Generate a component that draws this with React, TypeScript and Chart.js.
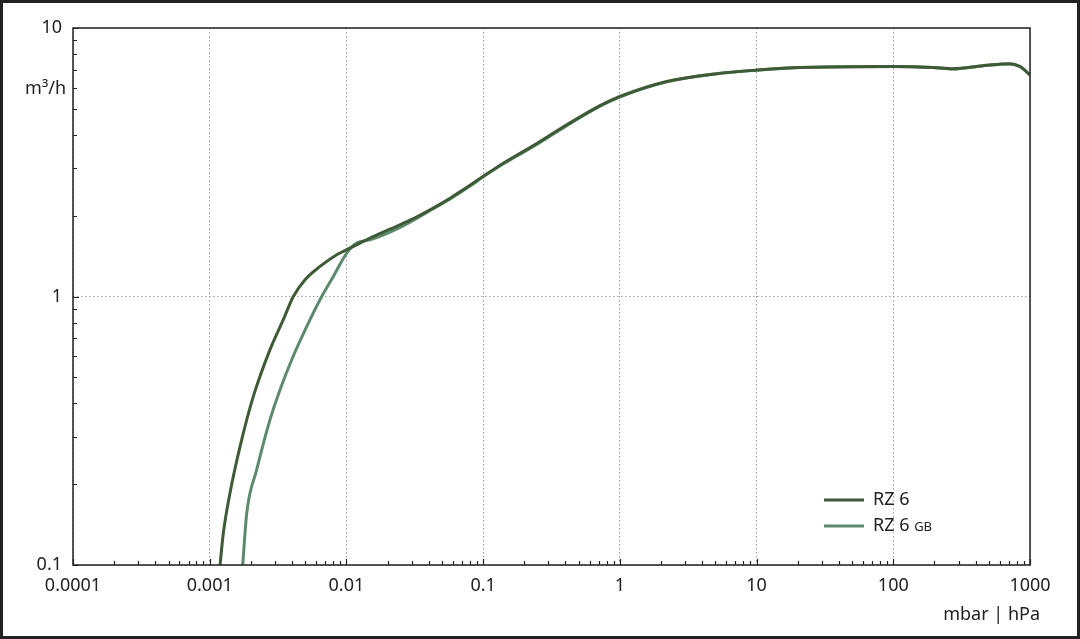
import { useEffect, useRef } from 'react';
import { Chart, registerables } from 'chart.js';

Chart.register(...registerables);

const xDecades = [0.0001, 0.001, 0.01, 0.1, 1, 10, 100, 1000];
const xTickLabels = ['0.0001', '0.001', '0.01', '0.1', '1', '10', '100', '1000'];
const yDecades = [0.1, 1, 10];
const yTickLabels = ['0.1', '1', '10'];
const minorSteps = [2, 3, 4, 5, 6, 7, 8, 9];

const rz6Pressure = [0.00119, 0.001258, 0.001407, 0.001714, 0.002085, 0.00276, 0.003454, 0.004089, 0.00498, 0.00641, 0.00849, 0.01005, 0.01329, 0.01488, 0.02084, 0.0292, 0.0409, 0.0573, 0.0802, 0.1, 0.1405, 0.233, 0.409, 0.716, 1, 2.2, 5.1, 10, 20.8, 100, 195, 273, 453, 714, 845, 1000];
const rz6Flow = [0.1, 0.1316, 0.1854, 0.2928, 0.4246, 0.634, 0.82, 1.0, 1.155, 1.294, 1.431, 1.494, 1.604, 1.649, 1.781, 1.924, 2.105, 2.324, 2.597, 2.8, 3.136, 3.65, 4.36, 5.14, 5.56, 6.32, 6.76, 6.97, 7.13, 7.19, 7.13, 7.05, 7.24, 7.36, 7.19, 6.7];

const rz6gbPressure = [0.001743, 0.001866, 0.002207, 0.002761, 0.003268, 0.00398, 0.005416, 0.006596, 0.008022, 0.01005, 0.0119, 0.01488, 0.02084, 0.0292, 0.0409, 0.0573, 0.0802, 0.1, 0.1405, 0.233, 0.409, 0.716, 1, 2.2, 5.1, 10, 20.8, 100, 195, 273, 453, 714, 845, 1000];
const rz6gbFlow = [0.1, 0.1562, 0.2264, 0.3477, 0.4497, 0.5815, 0.82, 1.0, 1.188, 1.452, 1.582, 1.625, 1.736, 1.891, 2.09, 2.31, 2.58, 2.79, 3.12, 3.62, 4.33, 5.11, 5.53, 6.3, 6.75, 6.96, 7.12, 7.19, 7.12, 7.04, 7.23, 7.35, 7.18, 6.68];

const FONT = 'Noto Sans';
const TEXT = '#222';

function logTicks(decades: number[]) {
  const out: { value: number; major: boolean }[] = [];
  decades.forEach((d, i) => {
    out.push({ value: d, major: true });
    if (i < decades.length - 1) minorSteps.forEach(m => out.push({ value: d * m, major: false }));
  });
  return out;
}

function labelFor(decades: number[], labels: string[], v: number) {
  const i = decades.findIndex(d => Math.abs(Math.log10(d) - Math.log10(v)) < 1e-6);
  return i >= 0 ? labels[i] : '';
}

const decorations = {
  id: 'decorations',
  beforeDraw(chart: Chart) {
    const { ctx, width, height } = chart;
    ctx.save();
    ctx.fillStyle = '#fff';
    ctx.fillRect(0, 0, width, height);
    ctx.restore();
  },
  afterDraw(chart: Chart) {
    const { ctx, chartArea, width, height } = chart;
    const xs: any = chart.scales.x;
    const ys: any = chart.scales.y;
    ctx.save();

    // inward tick marks
    ctx.strokeStyle = TEXT;
    ctx.lineWidth = 1.2;
    ctx.beginPath();
    xs.ticks.forEach((t: any) => {
      const px = Math.round(xs.getPixelForValue(t.value)) + 0.5;
      ctx.moveTo(px, chartArea.bottom);
      ctx.lineTo(px, chartArea.bottom - (t.major ? 6 : 4));
    });
    ys.ticks.forEach((t: any) => {
      const py = Math.round(ys.getPixelForValue(t.value)) + 0.5;
      ctx.moveTo(chartArea.left, py);
      ctx.lineTo(chartArea.left + (t.major ? 6 : 4), py);
    });
    ctx.stroke();

    // plot frame
    ctx.lineWidth = 1.5;
    ctx.strokeRect(chartArea.left, chartArea.top, chartArea.right - chartArea.left, chartArea.bottom - chartArea.top);
    // outer frame
    ctx.lineWidth = 3;
    ctx.strokeRect(1.5, 1.5, width - 3, height - 3);

    // axis titles
    ctx.fillStyle = TEXT;
    ctx.font = `18px "${FONT}"`;
    ctx.textAlign = 'right';
    ctx.textBaseline = 'alphabetic';
    ctx.fillText('m³/h', 66, 94);
    ctx.fillText('mbar | hPa', 1040, 620);

    // legend
    const items = [
      { label: 'RZ 6', sub: '', y: 500 },
      { label: 'RZ 6', sub: 'GB', y: 526 },
    ];
    items.forEach((it, i) => {
      const ds = chart.data.datasets[i] as any;
      ctx.strokeStyle = ds.borderColor;
      ctx.lineWidth = 3;
      ctx.beginPath();
      ctx.moveTo(824, it.y);
      ctx.lineTo(864, it.y);
      ctx.stroke();
      ctx.textAlign = 'left';
      ctx.textBaseline = 'middle';
      ctx.font = `18px "${FONT}"`;
      ctx.fillText(it.label, 873, it.y);
      if (it.sub) {
        const w = ctx.measureText(it.label + ' ').width;
        ctx.font = `13px "${FONT}"`;
        ctx.fillText(it.sub, 873 + w, it.y + 1.5);
      }
    });
    ctx.restore();
  },
};

function FlowChart() {
  const canvasRef = useRef<HTMLCanvasElement>(null);
  const chartRef = useRef<Chart | null>(null);

  useEffect(() => {
    if (!canvasRef.current) return;
    if (chartRef.current) chartRef.current.destroy();

    const gridColor = (c: any) => (c.tick && c.tick.major ? '#9a9a9a' : 'transparent');

    chartRef.current = new Chart(canvasRef.current, {
      type: 'line',
      data: {
        datasets: [
          {
            label: 'RZ 6',
            data: rz6Pressure.map((x, i) => ({ x, y: rz6Flow[i] })),
            borderColor: '#3f5a36',
            borderWidth: 3,
            pointRadius: 0,
            cubicInterpolationMode: 'monotone',
          },
          {
            label: 'RZ 6 GB',
            data: rz6gbPressure.map((x, i) => ({ x, y: rz6gbFlow[i] })),
            borderColor: '#5d8a6e',
            borderWidth: 3,
            pointRadius: 0,
            cubicInterpolationMode: 'monotone',
          },
        ],
      },
      options: {
        animation: false,
        responsive: true,
        maintainAspectRatio: false,
        layout: { padding: { top: 28, right: 50, bottom: 0, left: 0 } },
        plugins: { legend: { display: false }, tooltip: { enabled: false } },
        scales: {
          x: {
            type: 'logarithmic',
            min: 0.0001,
            max: 1000,
            afterBuildTicks: (s: any) => { s.ticks = logTicks(xDecades); },
            afterFit: (s: any) => { s.height = 74; },
            border: { display: false, dash: [1.5, 2.5] },
            grid: { color: gridColor, lineWidth: 1, drawTicks: false },
            ticks: {
              autoSkip: false,
              maxRotation: 0,
              padding: 10,
              color: TEXT,
              font: { family: FONT, size: 18 },
              callback: (v: any) => labelFor(xDecades, xTickLabels, Number(v)),
            },
          },
          y: {
            type: 'logarithmic',
            min: 0.1,
            max: 10,
            afterBuildTicks: (s: any) => { s.ticks = logTicks(yDecades); },
            afterFit: (s: any) => { s.width = 73; },
            border: { display: false, dash: [1.5, 2.5] },
            grid: { color: gridColor, lineWidth: 1, drawTicks: false },
            ticks: {
              autoSkip: false,
              padding: 11,
              color: TEXT,
              font: { family: FONT, size: 18 },
              callback: (v: any) => labelFor(yDecades, yTickLabels, Number(v)),
            },
          },
        },
      },
      plugins: [decorations],
    } as any);

    return () => {
      if (chartRef.current) {
        chartRef.current.destroy();
        chartRef.current = null;
      }
    };
  }, []);

  return <canvas ref={canvasRef} />;
}

export default function App() {
  return (
    <div style={{ position: 'fixed', left: 0, top: 0, width: 1080, height: 639, background: '#fff' }}>
      <FlowChart />
    </div>
  );
}
